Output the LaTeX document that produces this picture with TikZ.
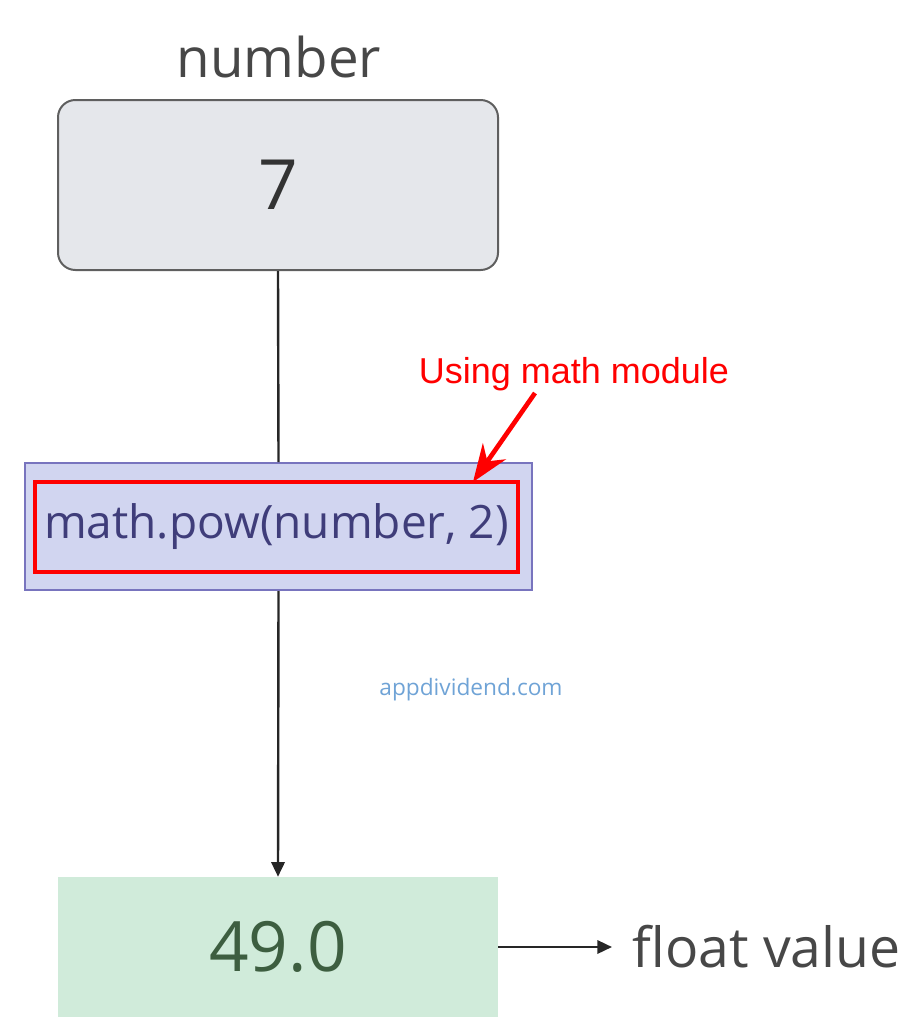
\documentclass[tikz,border=0pt]{standalone}
\usepackage{fontspec}
\setmainfont{Open Sans}
\newfontfamily\labelfont{Liberation Sans}
\usepackage{xcolor}
\usetikzlibrary{arrows.meta}

\definecolor{boxgray}{RGB}{229,231,235}
\definecolor{edgegray}{RGB}{95,95,95}
\definecolor{boxlav}{RGB}{209,213,240}
\definecolor{edgelav}{RGB}{120,116,190}
\definecolor{textlav}{RGB}{63,61,122}
\definecolor{boxmint}{RGB}{208,235,218}
\definecolor{textgreen}{RGB}{61,94,64}
\definecolor{webblue}{RGB}{111,163,214}

\begin{document}
\begin{tikzpicture}[x=0.75pt,y=0.75pt,yscale=-1,xscale=1,
  flow/.style={draw=black!85, line width=1.8pt},
  headtip/.style={-{Triangle[length=11pt,width=10pt]}}]
\useasboundingbox (0,0) rectangle (908,1024);

% Boxes
\node (inbox) at (278,185) [draw=edgegray, line width=1.5pt, fill=boxgray, rounded corners=13pt, minimum width=330pt, minimum height=127.5pt, inner sep=0pt, font=\fontsize{52}{60}\selectfont, text=black!80] {7};
\node (powbox) at (278.5,526.5) [draw=edgelav, line width=1.5pt, fill=boxlav, minimum width=380.25pt, minimum height=95.25pt, inner sep=0pt] {};
\node (powcode) at (276.5,527) [draw=red, line width=3.5pt, minimum width=362.25pt, minimum height=67.5pt, inner sep=0pt, font=\fontsize{34.5}{41}\selectfont, text=textlav] {math.pow(number, 2)};
\node (outbox) at (278,947) [fill=boxmint, minimum width=330pt, minimum height=105pt, inner sep=0pt, font=\fontsize{52}{60}\selectfont, text=textgreen] {49.0};

% Text Node
\node (numlbl) at (279,57) [inner sep=0pt, font=\fontsize{41}{48}\selectfont, text=black!72] {number};
% Text Node
\node (usinglbl) at (574,374) [inner sep=0pt, font=\labelfont\fontsize{27}{32}\selectfont, text=red] {Using math module};
% Text Node
\node (weblbl) at (471,690) [inner sep=0pt, font=\fontsize{17}{20}\selectfont, text=webblue] {appdividend.com};
% Text Node
\node (floatlbl) at (632,947) [anchor=west, inner sep=0pt, font=\fontsize{41.5}{48}\selectfont, text=black!72] {float value};

% Connectors
\draw [flow] (inbox.south) -- (powbox.north);
\draw [flow, headtip] (powbox.south) -- (outbox.north);
\draw [flow, headtip] (outbox.east) -- ([xshift=-15pt]floatlbl.west);
\coordinate (redtail) at (535,393);
\coordinate (redtip) at (473,482);
\draw [red, line width=3.5pt, -{Stealth[length=28pt,width=21pt]}] (redtail) -- (redtip);

\end{tikzpicture}
\end{document}
